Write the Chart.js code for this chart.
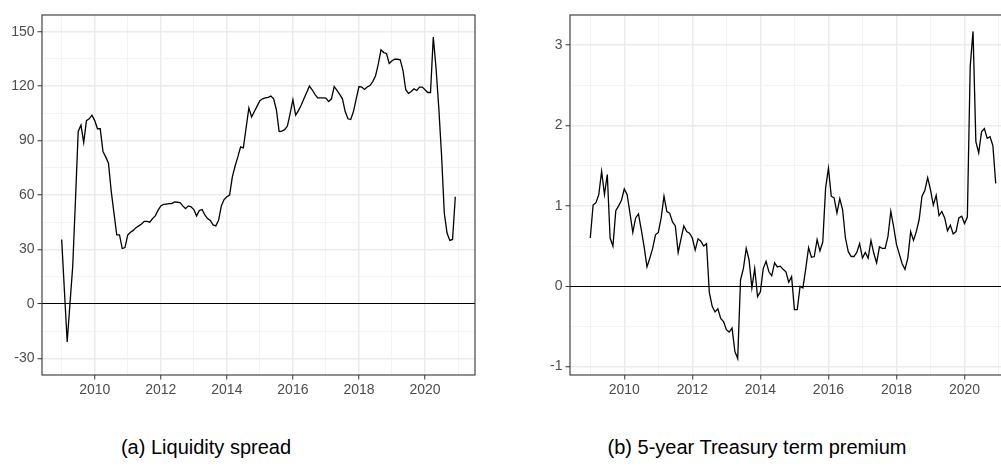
<!DOCTYPE html>
<html>
<head>
<meta charset="utf-8">
<script src="https://cdn.jsdelivr.net/npm/chart.js@4.4.0/dist/chart.umd.min.js"></script>
<style>
  html, body { margin: 0; padding: 0; background: #fff; overflow: hidden; }
  body { width: 1001px; height: 470px; position: relative; }
  .panel { position: absolute; top: 0; }
  .caption {
    position: absolute; top: 436px; font-family: "Liberation Sans", Arial, sans-serif;
    font-size: 20px; color: #000; white-space: nowrap; transform: translateX(-50%);
  }
</style>
</head>
<body>
<div class="panel" style="left:0px"><canvas id="liquidityChart" width="480" height="400"></canvas></div>
<div class="panel" style="left:528px"><canvas id="premiumChart" width="493" height="400"></canvas></div>
<div class="caption" style="left:206px">(a) Liquidity spread</div>
<div class="caption" style="left:757px">(b) 5-year Treasury term premium</div>
<script>
// monthly series, Jan 2009 .. Dec 2020
const startYear = 2009

const liquiditySpread = [
  35.5, 7, -21, 0, 20.5, 57, 95, 98.5, 89, 101, 102, 104,            // 2009
  101, 96.5, 96.5, 84, 81, 77.5, 62, 50, 38, 38, 30.5, 31,           // 2010
  38, 39.5, 40.5, 42, 43, 44, 45.5, 45.5, 45, 47, 48.5, 51.5,        // 2011
  54, 54.8, 55, 55.2, 55.3, 56.2, 56, 55.8, 54, 52.5, 54, 53.5,      // 2012
  52, 48.5, 51.5, 52, 49, 47, 46, 43.5, 43, 46, 54, 57.5,            // 2013
  59, 60, 70, 76, 81, 86.5, 86, 97, 108, 103, 106, 109,              // 2014
  112, 113, 113.5, 113.8, 114.5, 113, 107, 95, 95.2, 96, 98, 105,    // 2015
  112.5, 104, 106.5, 109.5, 113, 116.5, 120, 118, 115.5, 113.5, 113.5, 113.5, // 2016
  113.4, 111.5, 113, 119.8, 117.6, 115.5, 113, 106, 102, 101.6, 106, 113,     // 2017
  119.8, 119.5, 118.2, 119.5, 120.3, 122.5, 125.5, 132, 140, 138.5, 138, 132.5, // 2018
  134, 134.8, 134.8, 134.5, 128.6, 118, 116, 117, 118.5, 117.6, 119.5, 119.5,   // 2019
  118, 116.5, 116.5, 147, 130, 108, 82, 50, 39, 35, 35.5, 59         // 2020
]

const termPremium = [
  0.60, 1.01, 1.04, 1.14, 1.43, 1.14, 1.39, 0.60, 0.50, 0.94, 1.00, 1.07,        // 2009
  1.21, 1.14, 0.91, 0.67, 0.85, 0.90, 0.70, 0.49, 0.24, 0.35, 0.47, 0.64,        // 2010
  0.67, 0.85, 1.12, 0.93, 0.91, 0.80, 0.75, 0.42, 0.59, 0.75, 0.68, 0.66,        // 2011
  0.60, 0.45, 0.59, 0.56, 0.50, 0.53, -0.08, -0.25, -0.32, -0.28, -0.40, -0.44,  // 2012
  -0.54, -0.57, -0.52, -0.81, -0.90, 0.08, 0.22, 0.47, 0.33, -0.02, 0.22, -0.13, // 2013
  -0.07, 0.22, 0.31, 0.18, 0.13, 0.29, 0.24, 0.25, 0.21, 0.18, 0.05, 0.12,       // 2014
  -0.29, -0.29, 0.00, -0.02, 0.22, 0.48, 0.36, 0.37, 0.58, 0.44, 0.55, 1.22,     // 2015
  1.47, 1.12, 1.10, 0.91, 1.09, 0.95, 0.60, 0.43, 0.37, 0.37, 0.42, 0.53,        // 2016
  0.35, 0.42, 0.35, 0.57, 0.41, 0.29, 0.49, 0.47, 0.47, 0.62, 0.93, 0.74,        // 2017
  0.52, 0.40, 0.28, 0.21, 0.35, 0.68, 0.57, 0.68, 0.83, 1.12, 1.19, 1.35,        // 2018
  1.20, 1.01, 1.13, 0.88, 0.93, 0.85, 0.69, 0.76, 0.65, 0.68, 0.85, 0.87,        // 2019
  0.78, 0.86, 2.73, 3.17, 1.80, 1.66, 1.92, 1.96, 1.84, 1.86, 1.75, 1.28         // 2020
]

const yearTicks = [2010, 2012, 2014, 2016, 2018, 2020]
const liquidityTicks = [-30, 0, 30, 60, 90, 120, 150]
const premiumTicks = [-1, 0, 1, 2, 3]

function toPoints(values) {
  return values.map((v, i) => ({ x: startYear + i / 12, y: v }))
}

// major ticks plus ggplot style minor breaks halfway between them
function withMinor(major, lo, hi) {
  let step = major[1] - major[0]
  let all = []
  for (let v = major[0] - step; v <= major[major.length - 1] + step + 1e-9; v += step / 2) {
    let r = Math.round(v * 1000) / 1000
    if (r >= lo && r <= hi) all.push(r)
  }
  return all
}

const panelBorder = {
  id: 'panelBorder',
  afterDraw(chart) {
    const a = chart.chartArea
    const ctx = chart.ctx
    ctx.save()
    ctx.strokeStyle = '#333333'
    ctx.lineWidth = 1.1
    ctx.strokeRect(a.left, a.top, a.right - a.left, a.bottom - a.top)
    ctx.restore()
  }
}

function drawPanel(canvasId, values, majorY, yMin, yMax) {
  const xMin = 2008.404, xMax = 2021.513
  const isMajor = (list, v) => list.some(m => Math.abs(m - v) < 1e-6)
  const tickFont = { family: '"Liberation Sans", Arial, sans-serif', size: 14 }

  new Chart(document.getElementById(canvasId), {
    type: 'line',
    data: {
      datasets: [{
        data: toPoints(values),
        borderColor: '#000000',
        borderWidth: 1.3,
        pointRadius: 0,
        tension: 0,
        fill: false
      }]
    },
    options: {
      responsive: false,
      animation: false,
      devicePixelRatio: 1,
      layout: { padding: { top: 15, right: 5, left: 0, bottom: 0 } },
      plugins: { legend: { display: false }, tooltip: { enabled: false } },
      scales: {
        x: {
          type: 'linear',
          min: xMin,
          max: xMax,
          afterBuildTicks: axis => {
            axis.ticks = withMinor(yearTicks, xMin, xMax).map(v => ({ value: v }))
          },
          afterFit: axis => { axis.height = 25 },
          ticks: {
            autoSkip: false,
            maxRotation: 0,
            padding: 2,
            color: '#4D4D4D',
            font: tickFont,
            callback: v => isMajor(yearTicks, v) ? String(v) : ''
          },
          grid: {
            color: c => isMajor(yearTicks, c.tick.value) ? '#EBEBEB' : '#F0F0F0',
            lineWidth: c => isMajor(yearTicks, c.tick.value) ? 1.5 : 0.8,
            tickColor: c => isMajor(yearTicks, c.tick.value) ? '#333333' : 'rgba(0,0,0,0)',
            tickWidth: 1,
            tickLength: 4.5
          },
          border: { display: false }
        },
        y: {
          type: 'linear',
          min: yMin,
          max: yMax,
          afterBuildTicks: axis => {
            axis.ticks = withMinor(majorY, yMin, yMax).map(v => ({ value: v }))
          },
          afterFit: axis => { axis.width = 42 },
          ticks: {
            autoSkip: false,
            padding: 3,
            color: '#4D4D4D',
            font: tickFont,
            callback: v => isMajor(majorY, v) ? String(v) : ''
          },
          grid: {
            color: c => c.tick.value === 0 ? '#000000' : (isMajor(majorY, c.tick.value) ? '#EBEBEB' : '#F0F0F0'),
            lineWidth: c => c.tick.value === 0 ? 1 : (isMajor(majorY, c.tick.value) ? 1.5 : 0.8),
            tickColor: c => isMajor(majorY, c.tick.value) ? '#333333' : 'rgba(0,0,0,0)',
            tickWidth: 1,
            tickLength: 4.5
          },
          border: { display: false }
        }
      }
    },
    plugins: [panelBorder]
  })
}

drawPanel('liquidityChart', liquiditySpread, liquidityTicks, -39.2, 159.2)
drawPanel('premiumChart', termPremium, premiumTicks, -1.104, 3.374)
</script>
</body>
</html>
